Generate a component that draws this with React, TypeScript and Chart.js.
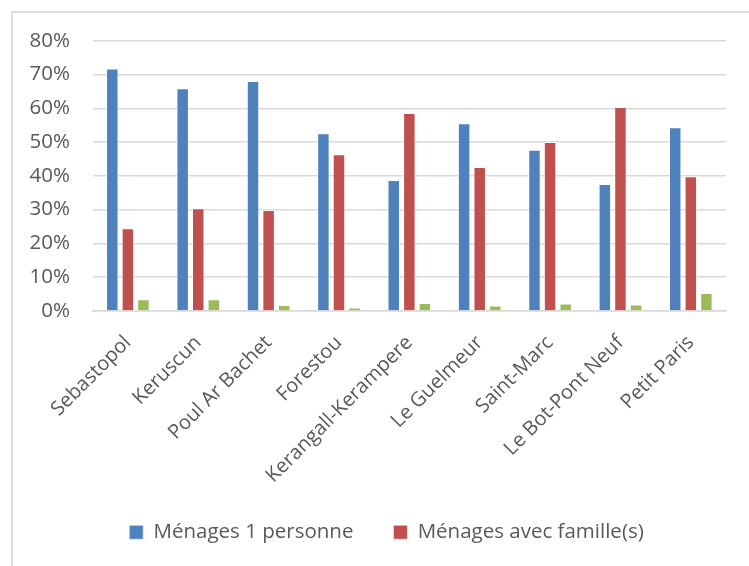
import React, { useEffect, useRef } from "react";
import { Chart, registerables } from "chart.js";

Chart.register(...registerables);

const categories = [
  "Sebastopol",
  "Keruscun",
  "Poul Ar Bachet",
  "Forestou",
  "Kerangall-Kerampere",
  "Le Guelmeur",
  "Saint-Marc",
  "Le Bot-Pont Neuf",
  "Petit Paris",
];
const seriesNames = ["Ménages 1 personne", "Ménages avec famille(s)", "Autres ménages"];
const menages1Personne = [0.718, 0.659, 0.681, 0.526, 0.388, 0.556, 0.477, 0.376, 0.544];
const menagesFamille = [0.245, 0.304, 0.299, 0.464, 0.586, 0.426, 0.5, 0.604, 0.399];
const autresMenages = [0.035, 0.035, 0.018, 0.01, 0.024, 0.016, 0.022, 0.019, 0.053];
const yTicks = [0, 0.1, 0.2, 0.3, 0.4, 0.5, 0.6, 0.7, 0.8];

const FONT = "'Open Sans', sans-serif";
const TEXT = "#595959";
const GRID = "#d9d9d9";

const legendShift = {
  id: "legendShift",
  afterLayout(chart: any) {
    if (chart.legend) {
      chart.legend.left += 9;
      chart.legend.right += 9;
    }
  },
};

export default function App() {
  const ref = useRef<HTMLCanvasElement | null>(null);

  useEffect(() => {
    if (!ref.current) return;
    const chart = new Chart(ref.current, {
      type: "bar",
      data: {
        labels: categories,
        datasets: [
          {
            label: seriesNames[0],
            data: menages1Personne,
            backgroundColor: "#4F81BD",
            borderColor: "rgba(255,255,255,0.55)",
            borderWidth: 1,
          },
          {
            label: seriesNames[1],
            data: menagesFamille,
            backgroundColor: "#C0504D",
            borderColor: "rgba(255,255,255,0.55)",
            borderWidth: 1,
          },
          {
            label: seriesNames[2],
            data: autresMenages,
            backgroundColor: "#9BBB59",
            borderColor: "rgba(255,255,255,0.55)",
            borderWidth: 1,
          },
        ],
      },
      plugins: [legendShift],
      options: {
        responsive: false,
        animation: false,
        categoryPercentage: 0.665,
        barPercentage: 0.8,
        layout: { padding: { left: 16, right: 35, top: 27.7, bottom: 30.5 } },
        plugins: {
          legend: {
            position: "bottom",
            labels: {
              filter: (item) => item.datasetIndex !== 2,
              boxWidth: 14,
              boxHeight: 14,
              padding: 40,
              color: TEXT,
              font: { family: FONT, size: 20.5 },
            },
          },
          tooltip: { enabled: false },
        },
        scales: {
          x: {
            grid: { display: false, drawTicks: false },
            border: { display: true, color: GRID, width: 1.5 },
            ticks: {
              color: TEXT,
              font: { family: FONT, size: 20 },
              minRotation: 45,
              maxRotation: 45,
              padding: 20,
              autoSkip: false,
            },
            afterFit: (scale: any) => {
              scale.height = 171;
            },
          },
          y: {
            min: 0,
            max: 0.8,
            afterBuildTicks: (scale: any) => {
              scale.ticks = yTicks.map((v) => ({ value: v }));
            },
            grid: { color: GRID, lineWidth: 1.5, drawTicks: false },
            border: { display: false },
            ticks: {
              color: TEXT,
              font: { family: FONT, size: 20.5 },
              padding: 22.7,
              callback: (v: any) => Math.round(Number(v) * 100) + "%",
            },
            afterFit: (scale: any) => {
              scale.width = 63.7;
              scale.paddingTop = 12;
              scale.paddingBottom = 12;
            },
          },
        },
      },
    });
    return () => chart.destroy();
  }, []);

  return (
    <div
      style={{
        position: "fixed",
        left: 0,
        top: 0,
        width: 749,
        height: 566,
        overflow: "hidden",
        background: "#ffffff",
      }}
    >
      <div
        style={{
          position: "absolute",
          left: 11,
          top: 11,
          borderLeft: "2px solid #dcdcdc",
          borderTop: "2px solid #dcdcdc",
        }}
      >
        <canvas ref={ref} width={748} height={570} style={{ display: "block" }} />
      </div>
    </div>
  );
}
